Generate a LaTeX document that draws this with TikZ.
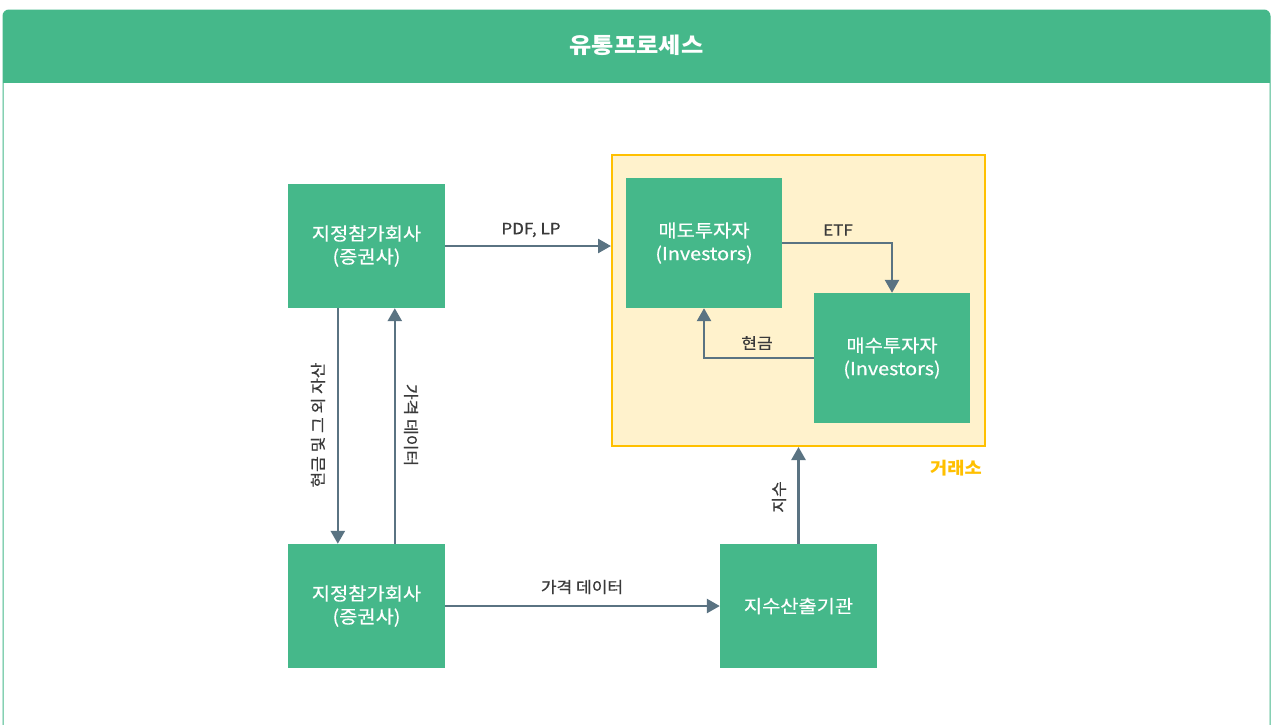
\documentclass[tikz,border=0pt]{standalone}
\usepackage{fontspec}
\setmainfont{Noto Sans CJK KR}[FakeStretch=1.1]
\newfontfamily\med{Noto Sans CJK KR}[FakeStretch=1.1,FakeBold=0.5]
\usetikzlibrary{arrows.meta,calc}
\definecolor{grn}{HTML}{45B88A}
\definecolor{arr}{HTML}{5A7382}
\definecolor{lbl}{HTML}{3A3A3A}
\definecolor{exfill}{HTML}{FFF2CC}
\definecolor{exline}{HTML}{FFC000}
\tikzset{
  gbox/.style={fill=grn,draw=none,minimum width=157pt,minimum height=124pt,text=white,font=\med\fontsize{18}{23}\selectfont,align=center,inner sep=0pt},
  ibox/.style={gbox,minimum width=156pt,minimum height=130pt},
  conn/.style={draw=arr,line width=2.6pt,-{Triangle[length=13pt,width=14pt]}},
  lab/.style={text=lbl,font=\med\fontsize{15.5}{18}\selectfont,inner sep=0pt}
}
\begin{document}
\begin{tikzpicture}[x=1pt,y=-1pt]
\useasboundingbox (0,0) rectangle (1273,724);
% frame
\begin{scope}
\clip (0,0) rectangle (1273,724);
\draw[draw=grn,line width=1pt,rounded corners=6pt,fill=white] (3,10) rectangle (1270,760);
\fill[grn,rounded corners=6pt] (3,10) rectangle (1270,40);
\fill[grn] (3,30) rectangle (1270,83);
\end{scope}
\node[text=white,font=\bfseries\fontsize{22}{26}\selectfont] (title) at (636.5,45) {유통프로세스};
% exchange
\node[fill=exfill,draw=exline,line width=2pt,minimum width=373pt,minimum height=291pt,inner sep=0pt] (E) at (798.5,300.5) {};
\node[text=exline,font=\bfseries\fontsize{17}{20}\selectfont,inner sep=0pt] (Elab) at (956,468) {거래소};
% boxes
\node[gbox] (A) at (366.5,246) {지정참가회사\\(증권사)};
\node[gbox] (B) at (366.5,606) {지정참가회사\\(증권사)};
\node[gbox] (C) at (798.5,606) {지수산출기관};
\node[ibox] (S) at (704,243) {매도투자자\\(Investors)};
\node[ibox] (Bu) at (892,358) {매수투자자\\(Investors)};
% connectors
\draw[conn] (A.east) -- (A.east -| E.west);
\node[lab] (l1) at (531,230) {PDF, LP};
\draw[conn] (S.east) -| (Bu.north);
\node[lab] (l2) at (838,230) {ETF};
\draw[conn] (Bu.west) -| (S.south);
\node[lab] (l3) at (757,343) {현금};
\coordinate (Ad) at ($(A.south west)+(50,0)$);
\coordinate (Au) at ($(A.south west)+(107,0)$);
\draw[conn] (Ad) -- (Ad |- B.north);
\draw[conn] (Au |- B.north) -- (Au);
\node[lab,rotate=90] (l4) at (318,425) {현금 및 그 외 자산};
\node[lab,rotate=-90] (l5) at (411,425) {가격 데이터};
\draw[conn] (B.east) -- (C.west);
\node[lab] (l6) at (582,587) {가격 데이터};
\draw[conn] (C.north) -- (C.north |- E.south);
\node[lab,rotate=90] (l7) at (779,497) {지수};
\end{tikzpicture}
\end{document}
